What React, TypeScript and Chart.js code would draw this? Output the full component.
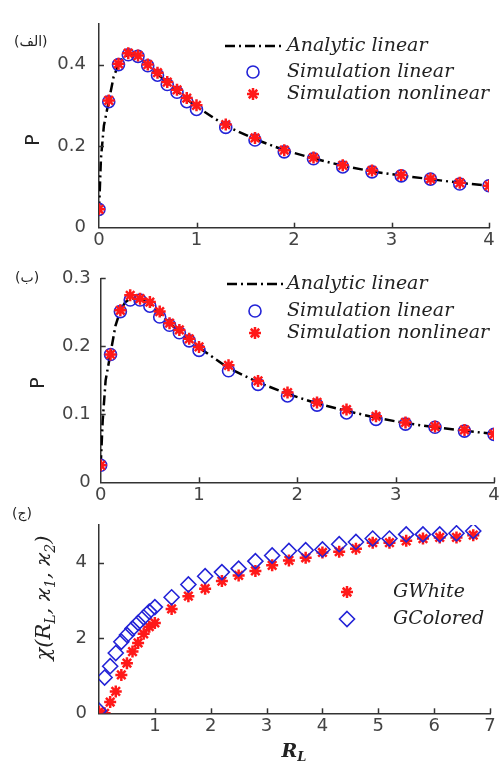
import React, { useEffect, useRef } from "react";
import { Chart, registerables } from "chart.js";
Chart.register(...registerables);

// ---------- Data ----------
const xSim = [0, 0.1, 0.2, 0.3, 0.4, 0.5, 0.6, 0.7, 0.8, 0.9, 1.0, 1.3, 1.6, 1.9, 2.2, 2.5, 2.8, 3.1, 3.4, 3.7, 4.0];
const xAnalytic = [0, 0.02, 0.05, 0.1, 0.15, 0.2, 0.25, 0.3, 0.35, 0.4, 0.5, 0.6, 0.7, 0.8, 0.9, 1.0, 1.3, 1.6, 1.9, 2.2, 2.5, 2.8, 3.1, 3.4, 3.7, 4.0];

// Panel (الف)
const pA_analytic = [0.04, 0.17, 0.25, 0.31, 0.37, 0.4, 0.418, 0.425, 0.425, 0.42, 0.4, 0.377, 0.355, 0.335, 0.315, 0.297, 0.25, 0.217, 0.19, 0.17, 0.152, 0.138, 0.128, 0.119, 0.11, 0.103];
const pA_simLinear = [0.045, 0.309, 0.4, 0.424, 0.42, 0.397, 0.374, 0.351, 0.332, 0.309, 0.29, 0.246, 0.215, 0.186, 0.169, 0.149, 0.137, 0.127, 0.119, 0.107, 0.103];
const pA_simNonlinear = [0.045, 0.312, 0.402, 0.428, 0.422, 0.4, 0.38, 0.357, 0.338, 0.318, 0.3, 0.253, 0.22, 0.19, 0.172, 0.153, 0.14, 0.129, 0.12, 0.11, 0.103];

// Panel (ب)
const pB_analytic = [0.025, 0.09, 0.15, 0.19, 0.23, 0.253, 0.265, 0.27, 0.271, 0.27, 0.262, 0.248, 0.234, 0.222, 0.21, 0.198, 0.168, 0.147, 0.13, 0.116, 0.105, 0.095, 0.087, 0.081, 0.076, 0.071];
const pB_simLinear = [0.025, 0.188, 0.251, 0.268, 0.268, 0.259, 0.243, 0.231, 0.22, 0.208, 0.194, 0.164, 0.144, 0.127, 0.1135, 0.102, 0.0925, 0.0856, 0.081, 0.0753, 0.0705];
const pB_simNonlinear = [0.025, 0.188, 0.253, 0.275, 0.27, 0.265, 0.251, 0.234, 0.224, 0.211, 0.199, 0.172, 0.149, 0.132, 0.1175, 0.107, 0.097, 0.088, 0.082, 0.077, 0.071];

// Panel (ج)
const xChi = [0, 0.1, 0.2, 0.3, 0.4, 0.5, 0.6, 0.7, 0.8, 0.9, 1.0, 1.3, 1.6, 1.9, 2.2, 2.5, 2.8, 3.1, 3.4, 3.7, 4.0, 4.3, 4.6, 4.9, 5.2, 5.5, 5.8, 6.1, 6.4, 6.7];
const chiWhite = [0.04, 0.0, 0.3, 0.58, 1.02, 1.33, 1.64, 1.87, 2.11, 2.3, 2.4, 2.77, 3.11, 3.31, 3.51, 3.66, 3.78, 3.93, 4.06, 4.13, 4.27, 4.29, 4.37, 4.53, 4.53, 4.58, 4.64, 4.67, 4.67, 4.73];
const chiColored = [0.07, 0.95, 1.25, 1.6, 1.9, 2.08, 2.25, 2.4, 2.55, 2.7, 2.82, 3.08, 3.42, 3.64, 3.75, 3.84, 4.04, 4.19, 4.31, 4.33, 4.35, 4.49, 4.55, 4.64, 4.64, 4.75, 4.75, 4.75, 4.78, 4.84];

// Ticks
const xTicksAB = [0, 1, 2, 3, 4];
const yTicksA = [0, 0.2, 0.4];
const yTicksB = [0, 0.1, 0.2, 0.3];
const xTicksC = [1, 2, 3, 4, 5, 6, 7];
const yTicksC = [0, 2, 4];

// Labels
const legendAB = ["Analytic linear", "Simulation linear", "Simulation nonlinear"];
const legendC = ["GWhite", "GColored"];
const panelLabels = ["(الف)", "(ب)", "(ج)"];

// ---------- Styles ----------
const BLUE = "rgb(35,35,215)";
const RED = "rgb(255,25,25)";
const AXIS = "#333";
const TICK_FONT = { family: "DejaVu Sans", size: 18 };
const LEGEND_FONT = "italic 19px 'DejaVu Serif'";

const pts = (xs: number[], ys: number[]) => xs.map((x, i) => ({ x, y: ys[i] }));

function drawMarker(ctx: CanvasRenderingContext2D, kind: string, x: number, y: number) {
  ctx.save();
  if (kind === "circle") {
    ctx.strokeStyle = BLUE; ctx.lineWidth = 1.6;
    ctx.beginPath(); ctx.arc(x, y, 6, 0, Math.PI * 2); ctx.stroke();
  } else if (kind === "star") {
    ctx.strokeStyle = RED; ctx.lineWidth = 2.5;
    const r = 6; const d = r * Math.SQRT1_2;
    ctx.beginPath();
    ctx.moveTo(x - r, y); ctx.lineTo(x + r, y);
    ctx.moveTo(x, y - r); ctx.lineTo(x, y + r);
    ctx.moveTo(x - d, y - d); ctx.lineTo(x + d, y + d);
    ctx.moveTo(x - d, y + d); ctx.lineTo(x + d, y - d);
    ctx.stroke();
  } else if (kind === "diamond") {
    ctx.strokeStyle = BLUE; ctx.lineWidth = 1.6;
    const r = 7.5;
    ctx.beginPath();
    ctx.moveTo(x, y - r); ctx.lineTo(x + r, y); ctx.lineTo(x, y + r); ctx.lineTo(x - r, y); ctx.closePath();
    ctx.stroke();
  } else if (kind === "line") {
    ctx.strokeStyle = "#000"; ctx.lineWidth = 2.5;
    ctx.setLineDash([10, 4, 2, 4]);
    ctx.beginPath(); ctx.moveTo(x - 28, y); ctx.lineTo(x + 31, y); ctx.stroke();
  }
  ctx.restore();
}

type Seg = { t: string; sub?: boolean };
function drawRich(ctx: CanvasRenderingContext2D, segs: Seg[], x: number, y: number, size: number, rotate: boolean, family: string, style: string) {
  ctx.save();
  ctx.translate(x, y);
  if (rotate) ctx.rotate(-Math.PI / 2);
  const f = `${style} ${size}px ${family}`;
  const fs = `${style} ${Math.round(size * 0.68)}px ${family}`;
  let total = 0;
  for (const s of segs) { ctx.font = s.sub ? fs : f; total += ctx.measureText(s.t).width; }
  let cx = -total / 2;
  ctx.textBaseline = "middle"; ctx.textAlign = "left"; ctx.fillStyle = "#222";
  for (const s of segs) {
    ctx.font = s.sub ? fs : f;
    ctx.fillText(s.t, cx, s.sub ? size * 0.3 : 0);
    cx += ctx.measureText(s.t).width;
  }
  ctx.restore();
}

type PanelCfg = {
  canvasTop: number; canvasHeight: number;
  area: { left: number; right: number; top: number; bottom: number };
  xMin: number; xMax: number; yMin: number; yMax: number;
  xTicks: number[]; yTicks: number[];
  yPad: number; xPad: number;
  datasets: any[];
  decorate: (ctx: CanvasRenderingContext2D, off: number) => void;
};

const W = 503;

const panels: PanelCfg[] = [
  {
    canvasTop: 0, canvasHeight: 262,
    area: { left: 99, right: 489, top: 10.6, bottom: 227.7 },
    xMin: 0, xMax: 4, yMin: 0, yMax: 0.5, xTicks: xTicksAB, yTicks: yTicksA, yPad: 13, xPad: 2,
    datasets: [
      { type: "line", label: legendAB[0], data: pts(xAnalytic, pA_analytic), showLine: true, borderColor: "#000", borderWidth: 2.5, borderDash: [10, 4, 2, 4], pointRadius: 0, fill: false, order: 3 },
      { label: legendAB[1], data: pts(xSim, pA_simLinear), pointStyle: "circle", pointRadius: 6, borderColor: BLUE, backgroundColor: "rgba(0,0,0,0)", borderWidth: 1.6, order: 2 },
      { label: legendAB[2], data: pts(xSim, pA_simNonlinear), pointStyle: "star", pointRadius: 6, borderColor: RED, backgroundColor: RED, borderWidth: 2.5, order: 1 },
    ],
    decorate: (ctx, off) => {
      ctx.save();
      ctx.font = "14px 'DejaVu Sans'"; ctx.fillStyle = "#222"; ctx.textBaseline = "middle"; ctx.textAlign = "left";
      ctx.fillText(panelLabels[0], 14, 42 - off);
      ctx.restore();
      drawRich(ctx, [{ t: "P" }], 34, 140 - off, 19, true, "'DejaVu Sans'", "");
      const rows = [46, 72, 94];
      const kinds = ["line", "circle", "star"];
      rows.forEach((ry, i) => {
        drawMarker(ctx, kinds[i], 253, ry - off);
        ctx.save(); ctx.font = LEGEND_FONT; ctx.fillStyle = "#222"; ctx.textBaseline = "middle";
        ctx.fillText(legendAB[i], 287, ry - off); ctx.restore();
      });
    },
  },
  {
    canvasTop: 250, canvasHeight: 266,
    area: { left: 100.7, right: 494, top: 278.3, bottom: 482.3 },
    xMin: 0, xMax: 4, yMin: 0, yMax: 0.3, xTicks: xTicksAB, yTicks: yTicksB, yPad: 10, xPad: 2,
    datasets: [
      { type: "line", label: legendAB[0], data: pts(xAnalytic, pB_analytic), showLine: true, borderColor: "#000", borderWidth: 2.5, borderDash: [10, 4, 2, 4], pointRadius: 0, fill: false, order: 3 },
      { label: legendAB[1], data: pts(xSim, pB_simLinear), pointStyle: "circle", pointRadius: 6, borderColor: BLUE, backgroundColor: "rgba(0,0,0,0)", borderWidth: 1.6, order: 2 },
      { label: legendAB[2], data: pts(xSim, pB_simNonlinear), pointStyle: "star", pointRadius: 6, borderColor: RED, backgroundColor: RED, borderWidth: 2.5, order: 1 },
    ],
    decorate: (ctx, off) => {
      ctx.save();
      ctx.font = "14px 'DejaVu Sans'"; ctx.fillStyle = "#222"; ctx.textBaseline = "middle"; ctx.textAlign = "left";
      ctx.fillText(panelLabels[1], 15, 278 - off);
      ctx.restore();
      drawRich(ctx, [{ t: "P" }], 39, 383 - off, 19, true, "'DejaVu Sans'", "");
      const rows = [284, 311, 333];
      const kinds = ["line", "circle", "star"];
      rows.forEach((ry, i) => {
        drawMarker(ctx, kinds[i], 255, ry - off);
        ctx.save(); ctx.font = LEGEND_FONT; ctx.fillStyle = "#222"; ctx.textBaseline = "middle";
        ctx.fillText(legendAB[i], 287, ry - off); ctx.restore();
      });
    },
  },
  {
    canvasTop: 495, canvasHeight: 275,
    area: { left: 99, right: 490, top: 525, bottom: 713.3 },
    xMin: 0, xMax: 7, yMin: 0, yMax: 5, xTicks: xTicksC, yTicks: yTicksC, yPad: 12, xPad: 2,
    datasets: [
      { label: legendC[0], data: pts(xChi, chiWhite), pointStyle: "star", pointRadius: 6, borderColor: RED, backgroundColor: RED, borderWidth: 2.5, order: 2 },
      { label: legendC[1], data: pts(xChi, chiColored), pointStyle: "rectRot", pointRadius: 7.5, borderColor: BLUE, backgroundColor: "rgba(0,0,0,0)", borderWidth: 1.6, order: 1 },
    ],
    decorate: (ctx, off) => {
      ctx.save();
      ctx.font = "14px 'DejaVu Sans'"; ctx.fillStyle = "#222"; ctx.textBaseline = "middle"; ctx.textAlign = "left";
      ctx.fillText(panelLabels[2], 12, 514 - off);
      ctx.restore();
      drawRich(ctx, [{ t: "χ(R" }, { t: "L", sub: true }, { t: ", ϰ" }, { t: "1", sub: true }, { t: ", ϰ" }, { t: "2", sub: true }, { t: ")" }], 45, 598 - off, 21, true, "'DejaVu Serif'", "italic");
      drawRich(ctx, [{ t: "R" }, { t: "L", sub: true }], 294, 752 - off, 19, false, "'DejaVu Serif'", "italic bold");
      const rows = [592, 619];
      const kinds = ["star", "diamond"];
      rows.forEach((ry, i) => {
        drawMarker(ctx, kinds[i], 347, ry - off);
        ctx.save(); ctx.font = LEGEND_FONT; ctx.fillStyle = "#222"; ctx.textBaseline = "middle";
        ctx.fillText(legendC[i], 393, ry - off); ctx.restore();
      });
    },
  },
];

function Panel({ cfg }: { cfg: PanelCfg }) {
  const ref = useRef<HTMLCanvasElement | null>(null);
  useEffect(() => {
    const canvas = ref.current!;
    const off = cfg.canvasTop;
    const areaTop = cfg.area.top - off;
    const areaBottom = cfg.area.bottom - off;
    const xScaleHeight = cfg.canvasHeight - areaBottom;
    const decorPlugin = {
      id: "decor",
      afterDraw(chart: any) {
        const ctx = chart.ctx as CanvasRenderingContext2D;
        const xs = chart.scales.x; const ys = chart.scales.y;
        ctx.save();
        ctx.strokeStyle = AXIS; ctx.lineWidth = 1.5;
        const L = 5;
        for (const v of cfg.xTicks) {
          if (v === cfg.xMin) continue;
          const px = Math.round(xs.getPixelForValue(v)) + 0.5;
          ctx.beginPath(); ctx.moveTo(px, ys.bottom); ctx.lineTo(px, ys.bottom - L); ctx.stroke();
        }
        for (const v of cfg.yTicks) {
          if (v === cfg.yMin) continue;
          const py = Math.round(ys.getPixelForValue(v)) + 0.5;
          ctx.beginPath(); ctx.moveTo(xs.left, py); ctx.lineTo(xs.left + L, py); ctx.stroke();
        }
        ctx.restore();
        cfg.decorate(ctx, off);
      },
    };
    const chart = new Chart(canvas, {
      type: "scatter",
      data: { datasets: cfg.datasets as any },
      options: {
        responsive: false,
        animation: false,
        devicePixelRatio: 1,
        layout: { padding: { left: 0, right: W - cfg.area.right, top: areaTop, bottom: 0 } },
        plugins: { legend: { display: false }, tooltip: { enabled: false } },
        scales: {
          x: {
            type: "linear", min: cfg.xMin, max: cfg.xMax,
            grid: { display: false, drawTicks: false },
            border: { display: true, color: AXIS, width: 1.5 },
            afterBuildTicks: (s: any) => { s.ticks = cfg.xTicks.map((v) => ({ value: v })); },
            afterFit: (s: any) => { s.height = xScaleHeight; },
            ticks: { font: TICK_FONT, color: "#444", padding: cfg.xPad, maxRotation: 0, autoSkip: false, callback: (v: any) => String(Math.round(Number(v) * 100) / 100) },
          },
          y: {
            type: "linear", min: cfg.yMin, max: cfg.yMax,
            grid: { display: false, drawTicks: false },
            border: { display: true, color: AXIS, width: 1.5 },
            afterBuildTicks: (s: any) => { s.ticks = cfg.yTicks.map((v) => ({ value: v })); },
            afterFit: (s: any) => { s.width = cfg.area.left; },
            ticks: { font: TICK_FONT, color: "#444", padding: cfg.yPad, autoSkip: false, callback: (v: any) => String(Math.round(Number(v) * 100) / 100) },
          },
        },
      } as any,
      plugins: [decorPlugin],
    });
    return () => chart.destroy();
  }, [cfg]);
  return (
    <canvas
      ref={ref}
      width={W}
      height={cfg.canvasHeight}
      style={{ position: "absolute", left: 0, top: cfg.canvasTop, width: W, height: cfg.canvasHeight }}
    />
  );
}

export default function App() {
  return (
    <div style={{ position: "absolute", left: 0, top: 0, width: W, height: 770, background: "#fff", overflow: "hidden" }}>
      {panels.map((p, i) => (
        <Panel key={i} cfg={p} />
      ))}
    </div>
  );
}
